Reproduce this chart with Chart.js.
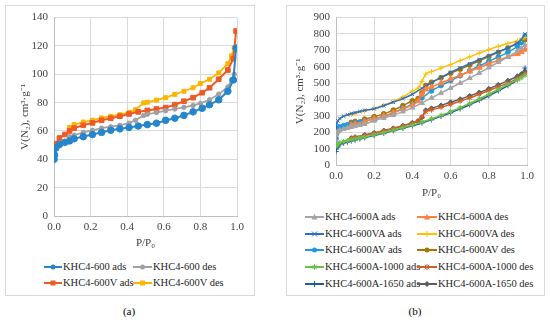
<!DOCTYPE html>
<html>
<head>
<meta charset="utf-8">
<script src="https://cdn.jsdelivr.net/npm/chart.js@4.4.0/dist/chart.umd.min.js"></script>
<style>
    body { margin: 0; width: 550px; height: 322px; background: #fff; position: relative; overflow: hidden;
           font-family: 'Liberation Serif', 'Times New Roman', serif; color: #262626; }
    .panel { position: absolute; border: 1px solid #d9d9d9; box-sizing: border-box; }
    canvas { position: absolute; }
    .leg { position: absolute; font-size: 10.5px; white-space: nowrap; height: 12px; line-height: 12px; display: flex; align-items: center; }
    .leg svg { display: block; margin-right: 1px; }
    .cap { position: absolute; font-size: 11px; color: #000; transform: translateX(-50%); }
</style>
</head>
<body>
<div class="panel" style="left:5px;top:5px;width:250px;height:291px"></div>
<div class="panel" style="left:286px;top:5px;width:259px;height:291px"></div>
<canvas id="chartA" width="250" height="245" style="left:5px;top:5px"></canvas>
<canvas id="chartB" width="256" height="195" style="left:287px;top:5px"></canvas>
<div id="legendA"></div>
<div id="legendB"></div>
<div class="cap" style="left:129px;top:305px">(a)</div>
<div class="cap" style="left:415px;top:305px">(b)</div>

<script>
// ---- panel (a) data ----
const pLeftAds = [0.0005, 0.003, 0.01, 0.03, 0.06, 0.085, 0.11, 0.16, 0.21, 0.26, 0.31, 0.36, 0.41, 0.46, 0.51, 0.56, 0.61, 0.66, 0.71, 0.76, 0.81, 0.85, 0.9, 0.95, 0.98, 0.995];
const v600Ads = [40, 43, 48, 50.5, 52, 53, 54.5, 56, 57.5, 59, 60.5, 61.5, 62.5, 63.5, 64.5, 65.5, 67.5, 69, 71, 73.5, 76, 78.5, 82, 88, 96, 118.5];
const v600VAds = [44, 48, 51, 55, 57.5, 60, 62, 64, 65.7, 67.5, 69, 70.4, 72, 73.5, 74.5, 75.5, 76.5, 78.5, 81, 83.5, 87, 90.5, 96.5, 103, 111, 130.5];
const pLeftDes = [0.985, 0.97, 0.95, 0.9, 0.85, 0.8, 0.76, 0.71, 0.66, 0.61, 0.56, 0.51, 0.49, 0.445, 0.41, 0.36, 0.31, 0.26, 0.21, 0.16, 0.11, 0.085];
const v600Des = [100, 96, 91, 86, 82, 79.5, 78, 76.7, 75.5, 74.3, 73, 71.8, 71, 67.5, 65.5, 64, 63, 62, 60.5, 59, 57, 56];
const v600VDes = [118.5, 113, 107.5, 101, 96.5, 93.5, 90.5, 88, 85.8, 83.5, 81.8, 80.3, 79.8, 75, 73.2, 71.5, 70.4, 69.2, 67.6, 66.3, 64.5, 62.5];

// ---- panel (b) data ----
const pRightAds = [0, 0.002, 0.005, 0.01, 0.02, 0.04, 0.06, 0.08, 0.1, 0.125, 0.15, 0.2, 0.25, 0.3, 0.35, 0.4, 0.45, 0.5, 0.55, 0.6, 0.65, 0.7, 0.75, 0.8, 0.85, 0.9, 0.95, 0.97, 0.99];
const vAAds = [150, 185, 198, 205, 212, 220, 226, 232, 237, 244, 250, 270, 287, 305, 326, 350, 378, 410, 440, 470, 500, 530, 562, 595, 628, 660, 695, 712, 732];
const vVAAds = [175, 228, 255, 270, 284, 298, 307, 314, 320, 327, 334, 343, 362, 383, 405, 432, 468, 502, 535, 565, 592, 618, 643, 668, 692, 716, 745, 765, 800];
const vAVAds = [160, 190, 210, 222, 232, 240, 246, 251, 256, 262, 268, 282, 298, 318, 345, 372, 410, 452, 485, 515, 545, 575, 605, 633, 660, 688, 725, 748, 788];
const v1000Ads = [115, 122, 127, 131, 136, 143, 149, 154, 159, 165, 171, 184, 198, 213, 228, 244, 262, 282, 303, 326, 350, 376, 403, 432, 462, 492, 520, 532, 548];
const v1650Ads = [82, 98, 108, 116, 124, 134, 141, 147, 153, 160, 167, 180, 194, 209, 224, 240, 257, 276, 297, 319, 343, 368, 395, 423, 453, 485, 520, 545, 592];
const pRightDes = [0.99, 0.97, 0.95, 0.9, 0.85, 0.8, 0.75, 0.7, 0.65, 0.6, 0.55, 0.5, 0.47, 0.45, 0.43, 0.4, 0.35, 0.3, 0.25, 0.2, 0.15, 0.1, 0.08];
const vADes = [705, 690, 678, 660, 640, 618, 595, 572, 548, 525, 500, 476, 462, 430, 390, 368, 342, 320, 300, 282, 266, 250, 244];
const vVADes = [778, 765, 757, 742, 725, 705, 683, 660, 637, 613, 592, 570, 555, 510, 470, 452, 415, 388, 365, 346, 330, 315, 308];
const vAVDes = [765, 752, 742, 715, 688, 662, 636, 610, 585, 560, 533, 505, 485, 440, 405, 392, 362, 335, 312, 295, 280, 266, 260];
const v1000Des = [560, 540, 528, 500, 478, 455, 432, 410, 390, 370, 352, 336, 325, 295, 270, 256, 238, 222, 208, 194, 181, 168, 162];
const v1650Des = [572, 555, 542, 515, 490, 465, 443, 422, 402, 383, 364, 346, 334, 290, 268, 258, 240, 224, 210, 196, 183, 170, 164];

const yTitle = 'V(N\u2082), cm\u00b3\u00b7g\u207b\u00b9';
const xTitle = 'P/P\u2080';

Chart.defaults.font.family = "'Liberation Serif', 'Times New Roman', serif";
Chart.defaults.font.size = 11;
Chart.defaults.color = '#404040';

function zip(xs, ys) {
    return xs.map((x, i) => ({ x: x, y: ys[i] }));
}

function series(label, xs, ys, color, style, radius, width, smooth) {
    return {
        label: label,
        data: zip(xs, ys),
        borderColor: color,
        backgroundColor: color,
        pointBackgroundColor: color,
        pointBorderColor: color,
        pointStyle: style,
        pointRadius: radius,
        pointBorderWidth: 1,
        borderWidth: width,
        cubicInterpolationMode: smooth ? 'monotone' : 'default',
        tension: 0
    };
}

function options(yMax, yStep, yW, xH, pad) {
    return {
        responsive: false,
        animation: false,
        layout: { padding: pad },
        plugins: { legend: { display: false }, tooltip: { enabled: false } },
        scales: {
            x: {
                type: 'linear', min: 0, max: 1,
                ticks: { stepSize: 0.2, padding: 5, callback: v => v.toFixed(1) },
                grid: { color: '#d9d9d9', drawTicks: false },
                border: { color: '#bfbfbf' },
                title: { display: true, text: xTitle, padding: { top: 1, bottom: 0 } },
                afterFit: s => { s.height = xH; }
            },
            y: {
                min: 0, max: yMax,
                ticks: { stepSize: yStep, padding: 6 },
                grid: { color: '#d9d9d9', drawTicks: false },
                border: { color: '#bfbfbf' },
                title: { display: true, text: yTitle, padding: { top: 0, bottom: 2 } },
                afterFit: s => { s.width = yW; }
            }
        }
    };
}

const dataA = [
    series('KHC4-600 ads', pLeftAds, v600Ads, '#2586cc', 'circle', 3.3, 2, false),
    series('KHC4-600 des', pLeftDes, v600Des, '#a0a0a0', 'circle', 2.2, 1.75, false),
    series('KHC4-600V ads', pLeftAds, v600VAds, '#ee5a24', 'rect', 3.3, 2, false),
    series('KHC4-600V des', pLeftDes, v600VDes, '#ffb400', 'rect', 2.8, 1.75, false)
];

const dataB = [
    series('KHC4-600A ads', pRightAds, vAAds, '#a5a5a5', 'triangle', 2.8, 1.5, true),
    series('KHC4-600A des', pRightDes, vADes, '#ff7f3f', 'triangle', 3.3, 1.5, true),
    series('KHC4-600VA ads', pRightAds, vVAAds, '#2f6fc0', 'crossRot', 2.5, 1.5, true),
    series('KHC4-600VA des', pRightDes, vVADes, '#ffc000', 'cross', 2.5, 1.5, true),
    series('KHC4-600AV ads', pRightAds, vAVAds, '#1c9be0', 'circle', 2.4, 1.5, true),
    series('KHC4-600AV des', pRightDes, vAVDes, '#a87700', 'circle', 2.4, 1.5, true),
    series('KHC4-600A-1000 ads', pRightAds, v1000Ads, '#6cc04a', 'star', 2.7, 1.5, true),
    series('KHC4-600A-1000 des', pRightDes, v1000Des, '#d0602a', 'star', 2.7, 1.5, true),
    series('KHC4-600A-1650 ads', pRightAds, v1650Ads, '#1f5c99', 'cross', 2.7, 1.5, true),
    series('KHC4-600A-1650 des', pRightDes, v1650Des, '#5f5f5f', 'rectRot', 2.5, 1.5, true)
];

new Chart(document.getElementById('chartA'), {
    type: 'line',
    data: { datasets: dataA },
    options: options(140, 20, 35, 34, { top: 11, right: 18, left: 14, bottom: 0 })
});

new Chart(document.getElementById('chartB'), {
    type: 'line',
    data: { datasets: dataB },
    options: options(900, 100, 42, 35, { top: 11, right: 16, left: 7, bottom: 0 })
});

// legend icons (line + marker), drawn as small svg
function icon(color, style, w) {
    const c = w / 2;
    let m = '';
    if (style === 'circle') m = `<circle cx="${c}" cy="5" r="2.5" fill="${color}"/>`;
    else if (style === 'rect') m = `<rect x="${c - 2.5}" y="2.5" width="5" height="5" fill="${color}"/>`;
    else if (style === 'triangle') m = `<polygon points="${c},1.8 ${c + 3},7.6 ${c - 3},7.6" fill="${color}"/>`;
    else if (style === 'rectRot') m = `<polygon points="${c},2 ${c + 3},5 ${c},8 ${c - 3},5" fill="${color}"/>`;
    else if (style === 'cross') m = `<path d="M${c} 2V8M${c - 3} 5H${c + 3}" stroke="${color}" stroke-width="1"/>`;
    else if (style === 'crossRot') m = `<path d="M${c - 2.5} 2.5L${c + 2.5} 7.5M${c - 2.5} 7.5L${c + 2.5} 2.5" stroke="${color}" stroke-width="1"/>`;
    else if (style === 'star') m = `<path d="M${c} 2V8M${c - 3} 5H${c + 3}M${c - 2.2} 2.8L${c + 2.2} 7.2M${c - 2.2} 7.2L${c + 2.2} 2.8" stroke="${color}" stroke-width="1"/>`;
    return `<svg width="${w}" height="10"><line x1="0" y1="5" x2="${w}" y2="5" stroke="${color}" stroke-width="2"/>${m}</svg>`;
}

function legend(holder, items, cols, rows) {
    const el = document.getElementById(holder);
    items.forEach((ds, i) => {
        const col = cols[i % 2];
        const row = rows[Math.floor(i / 2)];
        const d = document.createElement('div');
        d.className = 'leg';
        d.style.left = col.x + 'px';
        d.style.top = (row - 6) + 'px';
        d.innerHTML = icon(ds.borderColor, ds.pointStyle, col.w) + '<span>' + ds.label + '</span>';
        el.appendChild(d);
    });
}

legend('legendA', dataA, [{ x: 44, w: 18 }, { x: 133, w: 19 }], [267, 283]);
legend('legendB', dataB, [{ x: 305, w: 19 }, { x: 417, w: 20 }], [217, 233.5, 250.3, 267, 284]);
</script>
</body>
</html>
